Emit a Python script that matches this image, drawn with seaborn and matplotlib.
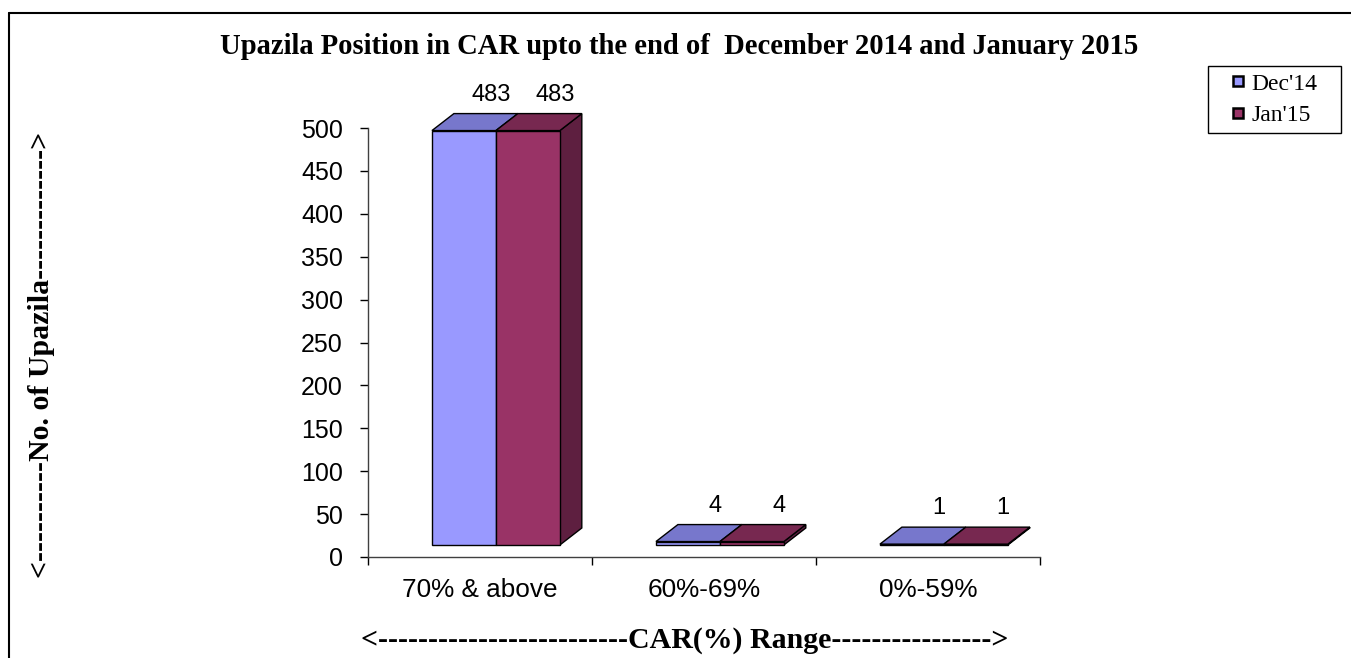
import pandas as pd
import numpy as np
import matplotlib
matplotlib.use('Agg')
import matplotlib.pyplot as plt
from matplotlib.patches import Polygon, Rectangle
from matplotlib.lines import Line2D
import seaborn as sns

# data
categories = ['70% & above', '60%-69%', '0%-59%']
periods = ["Dec'14", "Jan'15"]
dec14 = [483, 4, 1]
jan15 = [483, 4, 1]

front_cols = ['#9999FF', '#993366']
top_cols = ['#7777CC', '#772850']
side_col = '#5E1F40'

df = pd.DataFrame({
    'CAR Range': categories * 2,
    'Period': [periods[0]] * 3 + [periods[1]] * 3,
    'Upazila': dec14 + jan15,
})

sns.set_theme(style='white')
plt.rcParams['font.family'] = ['Liberation Sans', 'DejaVu Sans']
plt.rcParams['text.color'] = 'black'
plt.rcParams['xtick.color'] = 'black'
plt.rcParams['ytick.color'] = 'black'

fig = plt.figure(figsize=(13.51, 6.58), dpi=100)
ax = fig.add_axes([368 / 1351, 101 / 658, 672 / 1351, 429 / 658])

sns.barplot(data=df, x='CAR Range', y='Upazila', hue='Period', palette=front_cols,
            saturation=1, width=0.571, edgecolor='black', linewidth=1, ax=ax, legend=True)

# fake 3d look like the excel chart
shift = 0.071
base = 14
dx = 0.098
dy = 19.8
for i, cont in enumerate(ax.containers):
    for bar in cont:
        x0 = bar.get_x() + shift
        w = bar.get_width()
        h = bar.get_height()
        bar.set_x(x0)
        bar.set_y(base)
        bar.set_clip_on(False)
        bar.set_zorder(3)
        top = base + h
        ax.add_patch(Polygon([(x0, top), (x0 + w, top), (x0 + w + dx, top + dy), (x0 + dx, top + dy)],
                             closed=True, facecolor=top_cols[i], edgecolor='black', lw=1,
                             clip_on=False, zorder=3))
        if i == len(ax.containers) - 1:
            ax.add_patch(Polygon([(x0 + w, base), (x0 + w + dx, base + dy), (x0 + w + dx, top + dy), (x0 + w, top)],
                                 closed=True, facecolor=side_col, edgecolor='black', lw=1,
                                 clip_on=False, zorder=2))
        ax.text(x0 + w / 2 + 0.12, top + dy + 22, f'{int(h)}', ha='center', va='center',
                fontsize=17)

ax.set_ylim(0, 500)
ax.set_xlim(-0.5, 2.5)
ax.set_yticks(range(0, 501, 50))
ax.tick_params(axis='y', labelsize=18, length=6, width=1, direction='out', pad=12, left=True)
ax.set_xticks([-0.5, 0.5, 1.5, 2.5])
ax.set_xticklabels([])
ax.set_xticks([0, 1, 2], minor=True)
ax.set_xticklabels(categories, minor=True)
ax.tick_params(axis='x', which='major', length=6, width=1, direction='out', bottom=True)
ax.tick_params(axis='x', which='minor', length=0, labelsize=18.8, pad=15)
ax.set_xlabel('')
ax.set_ylabel('')
for s in ['top', 'right']:
    ax.spines[s].set_visible(False)
for s in ['left', 'bottom']:
    ax.spines[s].set_color('#404040')
    ax.spines[s].set_linewidth(1)

# legend without frame, box drawn separately to get the wide padding
leg = ax.legend(loc='center', bbox_to_anchor=(1275 / 1351, 558 / 658), bbox_transform=fig.transFigure,
                borderaxespad=0, frameon=False, handlelength=0.42, handleheight=0.27,
                handletextpad=0.35, labelspacing=0.45, borderpad=0.2,
                prop={'family': 'Liberation Serif', 'size': 17})
for hdl in leg.legend_handles:
    hdl.set_edgecolor('black')
    hdl.set_linewidth(1.8)
fig.add_artist(Rectangle((1208 / 1351, 525 / 658), 133 / 1351, 67 / 658, transform=fig.transFigure,
                         fill=False, edgecolor='black', lw=1))

fig.text(679 / 1351, 611 / 658, 'Upazila Position in CAR upto the end of  December 2014 and January 2015',
         ha='center', va='center', fontsize=20.6, fontweight='bold', family='Liberation Serif')
fig.text(42 / 1351, 303 / 658, '<' + '-' * 10 + 'No. of Upazila' + '-' * 13 + '>',
         ha='center', va='center', rotation=90, fontsize=21.5, fontweight='bold', family='Liberation Serif')
fig.text(685 / 1351, 18 / 658, '<' + '-' * 25 + 'CAR(%) Range' + '-' * 16 + '>',
         ha='center', va='center', fontsize=21.5, fontweight='bold', family='Liberation Serif')

# outer border (left and top only visible in reference)
fig.add_artist(Line2D([9 / 1351, 9 / 1351], [0, 645 / 658], transform=fig.transFigure, color='black', lw=1.5))
fig.add_artist(Line2D([9 / 1351, 1], [645 / 658, 645 / 658], transform=fig.transFigure, color='black', lw=1.5))

fig.savefig('out.png', dpi=100, facecolor='white')
